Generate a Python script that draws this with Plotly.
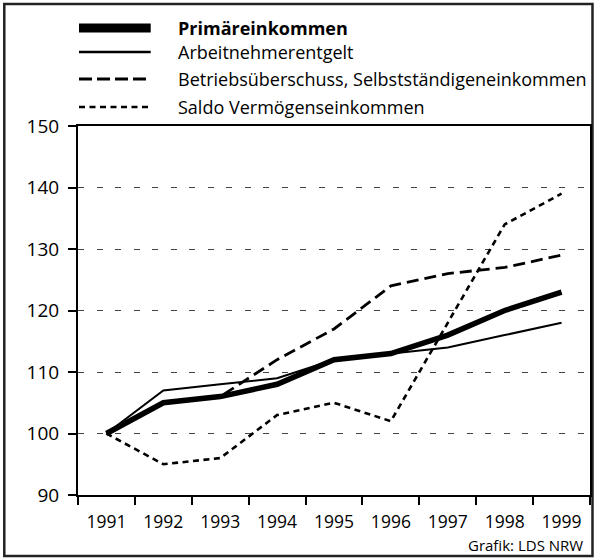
import plotly.graph_objects as go

years = ["1991", "1992", "1993", "1994", "1995", "1996", "1997", "1998", "1999"]
primaer = [100, 105, 106, 108, 112, 113, 116, 120, 123]
arbeitnehmer = [100, 107, 108, 109, 112, 113, 114, 116, 118]
betrieb = [100, 105, 106, 112, 117, 124, 126, 127, 129]
saldo = [100, 95, 96, 103, 105, 102, 118, 134, 139]

names = ["Primäreinkommen", "Arbeitnehmerentgelt",
         "Betriebsüberschuss, Selbstständigeneinkommen", "Saldo Vermögenseinkommen"]
series = [primaer, arbeitnehmer, betrieb, saldo]
styles = [dict(width=5.5, dash="solid"), dict(width=2, dash="solid"),
          dict(width=2.8, dash="12px,6px"), dict(width=2.6, dash="6px,4.5px")]
legend_styles = [dict(width=9, dash="solid"), dict(width=2.5, dash="solid"),
                 dict(width=2.8, dash="13px,5px"), dict(width=2.6, dash="6px,4.5px")]

W, H = 597, 558
L, R, T, B = 78, 5, 126, 63
PW, PH = W - L - R, H - T - B
FONT = "Open Sans"


def px(x):
    return (x - L) / PW


def py(y):
    return (H - B - y) / PH


fig = go.Figure()
order = [3, 2, 1, 0]
for i in order:
    fig.add_trace(go.Scatter(x=years, y=series[i], mode="lines", name=names[i],
                             line=dict(color="black", **styles[i]), showlegend=False))

shapes = []
annotations = []
shapes.append(dict(type="rect", xref="paper", yref="paper",
                   x0=px(4), x1=px(594.5), y0=py(556), y1=py(4),
                   line=dict(color="#222", width=2.5), layer="below"))
rows = [28, 52, 79, 107]
for i, yy in enumerate(rows):
    shapes.append(dict(type="line", xref="paper", yref="paper",
                       x0=px(79), x1=px(151), y0=py(yy), y1=py(yy),
                       line=dict(color="black", **legend_styles[i])))
    txt = f"<b>{names[i]}</b>" if i == 0 else names[i]
    annotations.append(dict(text=txt, xref="paper", yref="paper",
                            x=px(176), y=py(yy), xanchor="left", yanchor="middle",
                            showarrow=False, font=dict(family=FONT, size=18, color="black")))
annotations.append(dict(text="Grafik: LDS NRW", xref="paper", yref="paper",
                        x=px(587), y=py(545), xanchor="right", yanchor="middle",
                        showarrow=False, font=dict(family=FONT, size=15, color="black")))

fig.update_layout(
    width=W, height=H,
    margin=dict(l=L, r=R, t=T, b=B),
    paper_bgcolor="white", plot_bgcolor="white",
    font=dict(family=FONT, color="black"),
    shapes=shapes, annotations=annotations,
    showlegend=False,
    xaxis=dict(type="category", showline=True, linecolor="black", linewidth=2,
               mirror=True, ticks="outside", ticklen=8, tickwidth=1.5, tickcolor="black",
               tickson="boundaries", showgrid=False, tickfont=dict(size=17.5),
               ticklabelstandoff=10, range=[-0.5, 8.5]),
    yaxis=dict(range=[90, 150], dtick=10, showline=True, linecolor="black", linewidth=2,
               mirror=True, ticks="outside", ticklen=8, tickwidth=1.5, tickcolor="black",
               showgrid=True, gridcolor="#444", gridwidth=1, griddash="6px,12.5px",
               zeroline=False, tickfont=dict(size=19), ticklabelstandoff=5),
)

fig.write_html("out.html", config={"displayModeBar": False},
               post_script="document.body.style.margin='0';")
